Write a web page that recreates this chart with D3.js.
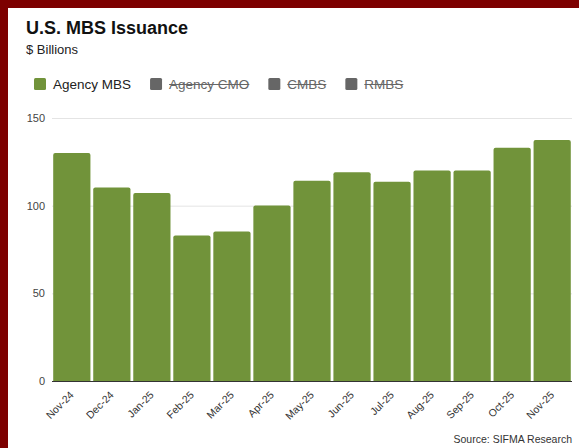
<!DOCTYPE html>
<html>
<head>
<meta charset="utf-8">
<script src="https://cdn.jsdelivr.net/npm/d3@7"></script>
<style>
  html, body { margin: 0; padding: 0; background: #7d0000; }
  body { width: 579px; height: 448px; overflow: hidden; }
  .chart { position: absolute; left: 8px; top: 8px; width: 571px; height: 440px; background: #fff; }
  text { font-family: Arial, "Liberation Sans", sans-serif; }
</style>
</head>
<body>
<div class="chart"></div>
<script>
var width = 579,
    height = 448;

var months = ["Nov-24", "Dec-24", "Jan-25", "Feb-25", "Mar-25", "Apr-25", "May-25",
              "Jun-25", "Jul-25", "Aug-25", "Sep-25", "Oct-25", "Nov-25"];
var agencyMBS = [130.0, 110.4, 107.2, 83.0, 85.3, 100.1, 114.2, 119.0, 113.7, 120.1, 120.1, 133.1, 137.5];
var yTicks = [0, 50, 100, 150];
var legendNames = ["Agency MBS", "Agency CMO", "CMBS", "RMBS"];
var legendOn = [true, false, false, false];

var margin = {left: 52, right: 7, top: 118, bottom: 67};

var svg = d3.select("body").append("svg")
    .attr("width", width)
    .attr("height", height)
    .style("position", "absolute")
    .style("left", 0)
    .style("top", 0);

// title
svg.append("text").attr("x", 26).attr("y", 34)
    .attr("font-size", 18).attr("font-weight", "bold").attr("fill", "#111")
    .text("U.S. MBS Issuance");
svg.append("text").attr("x", 26).attr("y", 54)
    .attr("font-size", 13).attr("fill", "#222")
    .text("$ Billions");

// legend
var lx = 34;
var legend = svg.append("g");
legendNames.forEach(function(name, i) {
    var g = legend.append("g").attr("transform", "translate(" + lx + ",78)");
    g.append("rect").attr("width", 12).attr("height", 12).attr("rx", 1.5)
        .attr("fill", legendOn[i] ? "#71933a" : "#666");
    var t = g.append("text").attr("x", 19).attr("y", 11)
        .attr("font-size", 13.5).attr("fill", legendOn[i] ? "#222" : "#666")
        .text(name);
    var w = t.node().getComputedTextLength();
    if (!legendOn[i]) {
        g.append("line").attr("x1", 19).attr("x2", 19 + w)
            .attr("y1", 6.5).attr("y2", 6.5)
            .attr("stroke", "#666").attr("stroke-width", 1);
    }
    lx += 19 + w + 19;
});

var x = d3.scaleBand()
    .domain(months)
    .range([margin.left, width - margin.right])
    .paddingInner(0.07)
    .paddingOuter(0.03);

var y = d3.scaleLinear()
    .domain([0, 150])
    .range([height - margin.bottom, margin.top]);

// gridlines + y labels
var yAxis = svg.append("g")
    .attr("transform", "translate(" + margin.left + ",0)")
    .call(d3.axisLeft(y).tickValues(yTicks).tickSize(-(width - margin.left - margin.right)).tickPadding(7));
yAxis.select(".domain").remove();
yAxis.selectAll(".tick line").attr("stroke", "#e4e4e4");
yAxis.selectAll(".tick text").attr("font-size", 11).attr("fill", "#444")
    .attr("font-family", "Arial, 'Liberation Sans', sans-serif");

// bars with rounded tops
function barPath(d, i) {
    var x0 = x(months[i]), w = x.bandwidth(), y0 = y(d), y1 = y(0), r = 2;
    return "M" + x0 + "," + y1 + "V" + (y0 + r) + "Q" + x0 + "," + y0 + " " + (x0 + r) + "," + y0 +
        "H" + (x0 + w - r) + "Q" + (x0 + w) + "," + y0 + " " + (x0 + w) + "," + (y0 + r) + "V" + y1 + "Z";
}
svg.append("g").selectAll("path")
    .data(agencyMBS)
    .enter().append("path")
    .attr("d", barPath)
    .attr("fill", "#71933a");

// x axis
var xAxis = svg.append("g")
    .attr("transform", "translate(0," + y(0) + ")")
    .call(d3.axisBottom(x).tickSize(0).tickPadding(8));
xAxis.select(".domain").attr("stroke", "#333").attr("d", "M" + margin.left + ",0.5H" + (width - margin.right));
xAxis.selectAll(".tick text")
    .attr("font-size", 10.5).attr("fill", "#333")
    .attr("font-family", "Arial, 'Liberation Sans', sans-serif")
    .attr("text-anchor", "end")
    .attr("x", 0).attr("y", 0)
    .attr("dx", 0).attr("dy", "0.35em")
    .attr("transform", "translate(0,12) rotate(-45)");

// source
svg.append("text").attr("x", 572).attr("y", 443)
    .attr("text-anchor", "end").attr("font-size", 10.5).attr("fill", "#333")
    .text("Source: SIFMA Research");
</script>
</body>
</html>
